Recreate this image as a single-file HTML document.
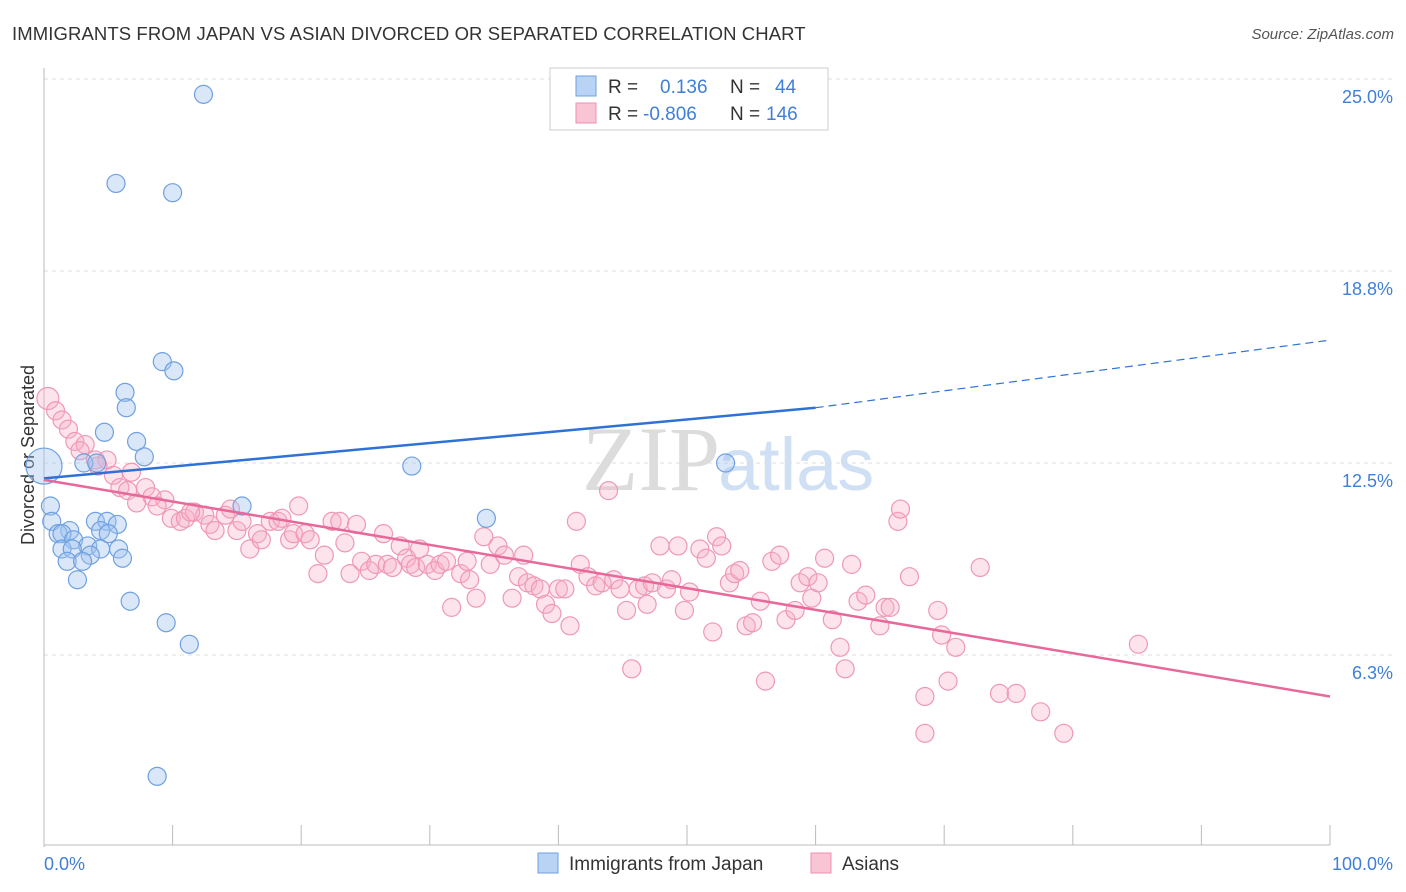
<!DOCTYPE html>
<html><head><meta charset="utf-8"><style>
body{margin:0;background:#fff;font-family:"Liberation Sans",sans-serif;}
#wrap{position:relative;width:1406px;height:892px;overflow:hidden;}
</style></head><body>
<div id="wrap">
<svg id="svg" width="1406" height="892" xmlns="http://www.w3.org/2000/svg">
<text x="12" y="40" font-size="18.5" letter-spacing="0.1" fill="#333">IMMIGRANTS FROM JAPAN VS ASIAN DIVORCED OR SEPARATED CORRELATION CHART</text>
<text x="1394" y="39" font-size="15" fill="#555" font-style="italic" text-anchor="end">Source: ZipAtlas.com</text>
<text x="720" y="490" font-size="92" fill="#dcdcdc" text-anchor="end" font-family="Liberation Serif">ZIP</text>
<text x="718" y="490" font-size="74" fill="#cfe0f5">atlas</text>
<text transform="translate(34,455) rotate(-90)" font-size="18" fill="#333" text-anchor="middle">Divorced or Separated</text>
<g id="grid"></g><g id="axes"></g><g id="pts"></g><g id="lines"></g>
<g>
<rect x="550" y="68" width="278" height="62" fill="#fff" stroke="#ccc"/>
<rect x="576" y="76" width="20" height="20" fill="#b9d3f5" stroke="#6fa0e0"/>
<rect x="576" y="103" width="20" height="20" fill="#f9c5d5" stroke="#ee8fae"/>
<text x="608" y="93" font-size="19" fill="#333">R = <tspan x="660" fill="#3f7fd9">0.136</tspan><tspan x="730" fill="#333">N =</tspan><tspan x="775" fill="#3f7fd9">44</tspan></text>
<text x="608" y="120" font-size="19" fill="#333">R = <tspan x="643" fill="#3f7fd9">-0.806</tspan><tspan x="730" fill="#333">N =</tspan><tspan x="766" fill="#3f7fd9">146</tspan></text>
</g>
<g>
<rect x="538" y="853" width="20" height="20" fill="#b9d3f5" stroke="#6fa0e0"/>
<text x="569" y="870" font-size="19" fill="#333">Immigrants from Japan</text>
<rect x="811" y="853" width="20" height="20" fill="#f9c5d5" stroke="#ee8fae"/>
<text x="842" y="870" font-size="19" fill="#333">Asians</text>
</g>
</svg>
</div>
<script>
const yTicks=[6.25,12.5,18.75,25];
const yTickLabels=["6.3%","12.5%","18.8%","25.0%"];
const xTicks=[0,10,20,30,40,50,60,70,80,90,100];
const xEndLabels=["0.0%","100.0%"];
const japanX=[12.4,5.6,10.0,9.2,10.1,6.3,6.4,4.7,7.2,7.8,3.1,4.1,28.6,53.0,0.0,0.5,15.4,34.4,0.6,4.0,4.9,5.7,2.0,4.4,5.0,1.1,1.4,2.3,3.4,1.4,2.2,4.4,5.8,3.6,6.1,1.8,3.0,2.6,6.7,9.5,11.3,8.8];
const japanY=[24.5,21.6,21.3,15.8,15.5,14.8,14.3,13.5,13.2,12.7,12.5,12.5,12.4,12.5,12.4,11.1,11.1,10.7,10.6,10.6,10.6,10.5,10.3,10.3,10.2,10.2,10.2,10.0,9.8,9.7,9.7,9.7,9.7,9.5,9.4,9.3,9.3,8.7,8.0,7.3,6.6,2.3];
const asianX=[0.3,0.9,1.4,1.9,2.4,3.2,2.8,4.0,4.9,4.2,5.4,6.8,5.9,7.9,6.5,8.4,9.4,7.2,8.8,9.9,10.6,11.0,11.7,12.5,11.4,12.9,13.3,14.1,14.5,15.0,15.4,16.0,16.6,16.9,17.6,18.2,18.5,19.1,19.4,19.8,20.3,20.7,21.3,21.8,22.4,23.0,23.4,23.8,24.3,24.7,25.3,25.8,26.4,26.7,27.1,27.7,28.2,28.5,28.9,29.2,29.8,30.4,30.8,31.3,31.7,32.4,32.9,33.1,33.6,34.2,34.7,35.3,35.8,36.4,36.9,37.3,37.6,38.1,38.6,39.0,39.5,40.0,40.5,40.9,41.4,41.7,42.3,42.9,43.4,43.9,44.3,44.8,45.3,45.7,46.2,46.7,46.9,47.3,47.9,48.4,48.8,49.3,49.8,50.2,51.0,51.5,52.0,52.3,52.7,53.3,53.7,54.1,54.6,55.1,55.7,56.1,56.6,57.2,57.7,58.4,58.8,59.4,59.7,60.2,60.7,61.3,61.9,62.3,62.8,63.3,63.9,65.0,65.4,65.8,66.4,66.6,67.3,68.5,68.5,69.5,69.8,70.3,70.9,72.8,74.3,75.6,77.5,79.3,85.1];
const asianY=[14.6,14.2,13.9,13.6,13.2,13.1,12.9,12.6,12.6,12.4,12.1,12.2,11.7,11.7,11.6,11.4,11.3,11.2,11.1,10.7,10.6,10.7,10.9,10.8,10.9,10.5,10.3,10.8,11.0,10.3,10.6,9.7,10.2,10.0,10.6,10.6,10.7,10.0,10.2,11.1,10.2,10.0,8.9,9.5,10.6,10.6,9.9,8.9,10.5,9.3,9.0,9.2,10.2,9.2,9.1,9.8,9.4,9.2,9.1,9.7,9.2,9.0,9.2,9.3,7.8,8.9,9.3,8.7,8.1,10.1,9.2,9.8,9.5,8.1,8.8,9.5,8.6,8.5,8.4,7.9,7.6,8.4,8.4,7.2,10.6,9.2,8.8,8.5,8.6,11.6,8.7,8.4,7.7,5.8,8.4,8.5,7.9,8.6,9.8,8.4,8.7,9.8,7.7,8.3,9.7,9.4,7.0,10.1,9.8,8.6,8.9,9.0,7.2,7.3,8.0,5.4,9.3,9.5,7.4,7.7,8.6,8.8,8.1,8.6,9.4,7.4,6.5,5.8,9.2,8.0,8.2,7.2,7.8,7.8,10.6,11.0,8.8,4.9,3.7,7.7,6.9,5.4,6.5,9.1,5.0,5.0,4.4,3.7,6.6];
const japanLineX=[0,60,100];
const japanLineY=[12.0,14.3,16.5];
const asianLineX=[0,100];
const asianLineY=[11.95,4.9];

const X0=44,X1=1330,Y0=847,YPER=30.72;
const sx=v=>X0+(X1-X0)*v/100;
const sy=v=>Y0-v*YPER;
const NS="http://www.w3.org/2000/svg";
function mk(tag,attrs,parent){const e=document.createElementNS(NS,tag);for(const k in attrs)e.setAttribute(k,attrs[k]);document.getElementById(parent).appendChild(e);return e;}

yTicks.forEach((t,i)=>{
  const g=mk('line',{x1:X0,x2:1394,y1:sy(t),y2:sy(t),stroke:'#ddd','stroke-dasharray':'4,4'},'grid');
  
  
  const l=mk('text',{x:1393,y:sy(t)+24,'font-size':18,fill:'#3f7fd9','text-anchor':'end'},'axes');
  l.textContent=yTickLabels[i];
  
  
});
const ya=mk('line',{x1:X0,x2:X0,y1:68,y2:Y0,stroke:'#bbb'},'axes');


const xa=mk('line',{x1:X0,x2:X1,y1:Y0-2,y2:Y0-2,stroke:'#bbb'},'axes');


xTicks.forEach(t=>{
  const k=mk('line',{x1:sx(t),x2:sx(t),y1:825,y2:845,stroke:'#bbb'},'axes');
  
  
});
const xl0=mk('text',{x:44,y:870,'font-size':18,fill:'#3f7fd9'},'axes');
xl0.textContent=xEndLabels[0];


const xl1=mk('text',{x:1393,y:870,'font-size':18,fill:'#3f7fd9','text-anchor':'end'},'axes');
xl1.textContent=xEndLabels[1];



asianX.forEach((x,i)=>{
  const c=mk('circle',{cx:sx(x),cy:sy(asianY[i]),r:i==0?11:9,fill:'rgba(247,176,200,0.35)',stroke:'#ef98b5','stroke-width':1.2},'pts');
  
  
});
japanX.forEach((x,i)=>{
  const c=mk('circle',{cx:sx(x),cy:sy(japanY[i]),r:x===0?18:9,fill:'rgba(160,196,240,0.4)',stroke:'#6fa0e0','stroke-width':1.2},'pts');
  
  
});
const jl=mk('line',{x1:sx(japanLineX[0]),y1:sy(japanLineY[0]),x2:sx(japanLineX[1]),y2:sy(japanLineY[1]),stroke:'#2f72d6','stroke-width':2.5},'lines');


const jd=mk('line',{x1:sx(japanLineX[1]),y1:sy(japanLineY[1]),x2:sx(japanLineX[2]),y2:sy(japanLineY[2]),stroke:'#2f72d6','stroke-width':1.2,'stroke-dasharray':'8,5'},'lines');


const al=mk('line',{x1:sx(asianLineX[0]),y1:sy(asianLineY[0]),x2:sx(asianLineX[1]),y2:sy(asianLineY[1]),stroke:'#e8689a','stroke-width':2.5},'lines');


</script>
</body></html>
